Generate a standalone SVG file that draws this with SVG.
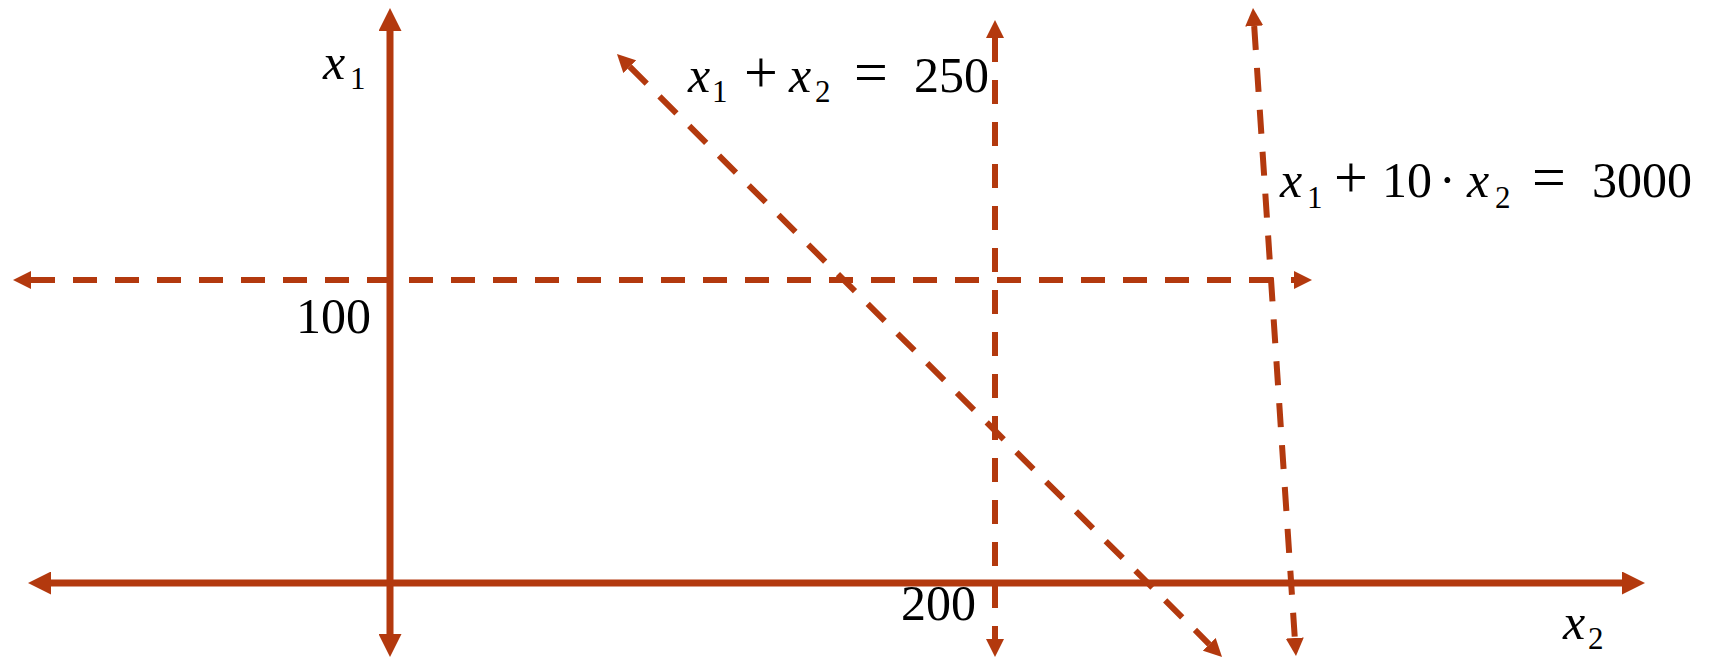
<svg xmlns="http://www.w3.org/2000/svg" width="1714" height="658" viewBox="0 0 1714 658">
<style>
.ax{stroke:#B3390E;stroke-width:7;fill:none}
.ds{stroke:#B3390E;stroke-width:6;fill:none;stroke-dasharray:24 18}
text{font-family:"Liberation Serif",serif;font-size:50px;fill:#000}
.v{font-style:italic}
.s{font-size:31px}
.o{font-size:60px}
</style>
<defs>
<marker id="ah" markerUnits="userSpaceOnUse" markerWidth="23" markerHeight="23" refX="0" refY="11.5" orient="auto-start-reverse" viewBox="0 0 23 23">
<path d="M0,0 L23,11.5 L0,23 z" fill="#B3390E"/>
</marker>
<marker id="dh" markerUnits="userSpaceOnUse" markerWidth="18" markerHeight="18" refX="0" refY="9" orient="auto-start-reverse" viewBox="0 0 18 18">
<path d="M0,0 L18,9 L0,18 z" fill="#B3390E"/>
</marker>
</defs>
<g id="connectors">
<line id="axis-x1" class="ax" x1="390" y1="31" x2="390" y2="634" marker-start="url(#ah)" marker-end="url(#ah)"/>
<line id="axis-x2" class="ax" x1="51" y1="583" x2="1622" y2="583" marker-start="url(#ah)" marker-end="url(#ah)"/>
<line id="line-100" class="ds" x1="31" y1="280" x2="1294" y2="280" marker-start="url(#dh)" marker-end="url(#dh)"/>
<line id="line-200" class="ds" x1="995" y1="38" x2="995" y2="639" marker-start="url(#dh)" marker-end="url(#dh)"/>
<line id="line-250" class="ds" x1="629.7" y1="66.7" x2="1209.3" y2="644.3" marker-start="url(#dh)" marker-end="url(#dh)"/>
<line id="line-3000" class="ds" x1="1254.2" y1="26" x2="1294.8" y2="638" marker-start="url(#dh)" marker-end="url(#dh)"/>
</g>
<g id="label-x1"><text x="323" y="79" class="v">x</text><text x="350" y="89" class="s">1</text></g>
<g id="label-x2"><text x="1563" y="639" class="v">x</text><text x="1588" y="649" class="s">2</text></g>
<g id="label-100"><text x="296" y="333">100</text></g>
<g id="label-200"><text x="901" y="620">200</text></g>
<g id="label-eq250">
<text x="688" y="92" class="v">x</text><text x="712" y="102" class="s">1</text>
<text x="744" y="92" class="o">+</text>
<text x="789" y="92" class="v">x</text><text x="815" y="102" class="s">2</text>
<text x="854" y="92" class="o">=</text>
<text x="914" y="92">250</text>
</g>
<g id="label-eq3000">
<text x="1280" y="197" class="v">x</text><text x="1307" y="208" class="s">1</text>
<text x="1334" y="197" class="o">+</text>
<text x="1382" y="197">10</text>
<text x="1439" y="197">·</text>
<text x="1467" y="197" class="v">x</text><text x="1495" y="208" class="s">2</text>
<text x="1532" y="197" class="o">=</text>
<text x="1592" y="197">3000</text>
</g>
</svg>
